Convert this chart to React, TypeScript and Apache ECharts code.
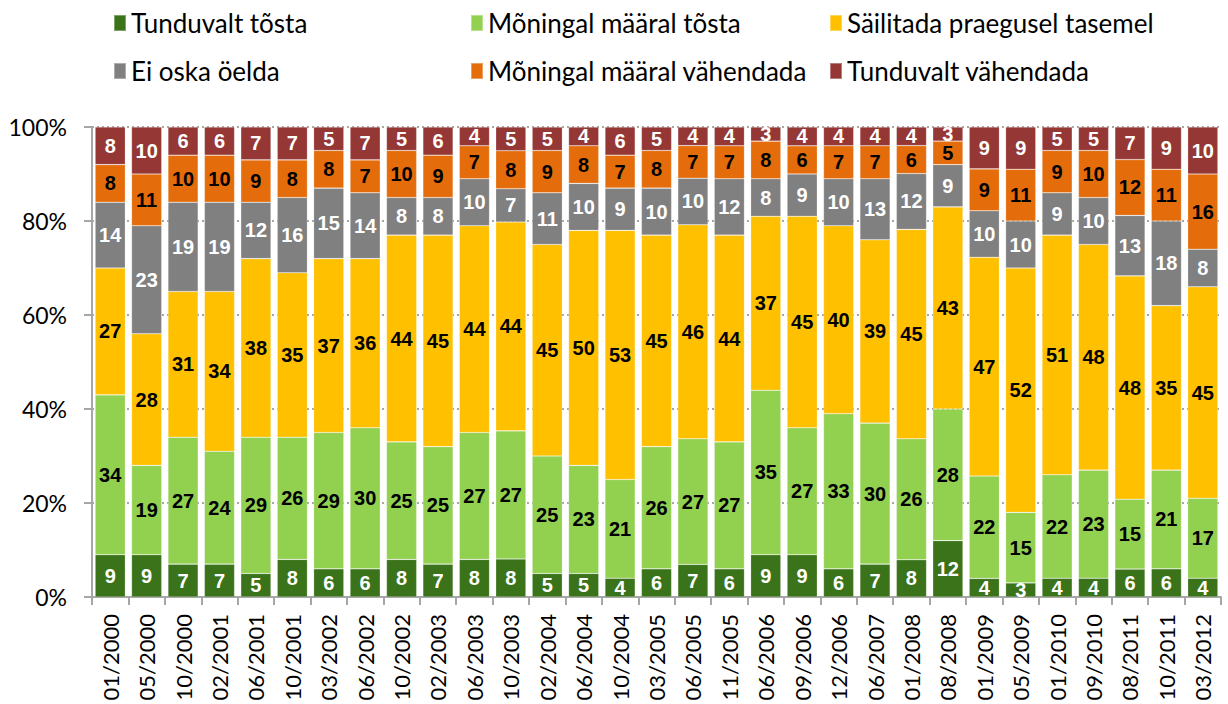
import React, { useEffect, useRef } from "react";
import * as echarts from "echarts";

const categories = [
  "01/2000", "05/2000", "10/2000", "02/2001", "06/2001", "10/2001", "03/2002", "06/2002",
  "10/2002", "02/2003", "06/2003", "10/2003", "02/2004", "06/2004", "10/2004", "03/2005",
  "06/2005", "11/2005", "06/2006", "09/2006", "12/2006", "06/2007", "01/2008", "08/2008",
  "01/2009", "05/2009", "01/2010", "09/2010", "08/2011", "10/2011", "03/2012",
];

const seriesNames = [
  "Tunduvalt tõsta",
  "Mõningal määral tõsta",
  "Säilitada praegusel tasemel",
  "Ei oska öelda",
  "Mõningal määral vähendada",
  "Tunduvalt vähendada",
];

const tunduvaltTosta = [9, 9, 7, 7, 5, 8, 6, 6, 8, 7, 8, 8, 5, 5, 4, 6, 7, 6, 9, 9, 6, 7, 8, 12, 4, 3, 4, 4, 6, 6, 4];
const moningalTosta = [34, 19, 27, 24, 29, 26, 29, 30, 25, 25, 27, 27, 25, 23, 21, 26, 27, 27, 35, 27, 33, 30, 26, 28, 22, 15, 22, 23, 15, 21, 17];
const sailitada = [27, 28, 31, 34, 38, 35, 37, 36, 44, 45, 44, 44, 45, 50, 53, 45, 46, 44, 37, 45, 40, 39, 45, 43, 47, 52, 51, 48, 48, 35, 45];
const eiOska = [14, 23, 19, 19, 12, 16, 15, 14, 8, 8, 10, 7, 11, 10, 9, 10, 10, 12, 8, 9, 10, 13, 12, 9, 10, 10, 9, 10, 13, 18, 8];
const moningalVahendada = [8, 11, 10, 10, 9, 8, 8, 7, 10, 9, 7, 8, 9, 8, 7, 8, 7, 7, 8, 6, 7, 7, 6, 5, 9, 11, 9, 10, 12, 11, 16];
const tunduvaltVahendada = [8, 10, 6, 6, 7, 7, 5, 7, 5, 6, 4, 5, 5, 4, 6, 5, 4, 4, 3, 4, 4, 4, 4, 3, 9, 9, 5, 5, 7, 9, 10];

const yTicks = [0, 20, 40, 60, 80, 100];

const allSeries = [tunduvaltTosta, moningalTosta, sailitada, eiOska, moningalVahendada, tunduvaltVahendada];
const colors = ["#3A7319", "#92D050", "#FFC000", "#808080", "#E46C0A", "#953735"];
const labelColors = ["#FFFFFF", "#000000", "#000000", "#FFFFFF", "#000000", "#FFFFFF"];

const legendPos = [
  { left: 113, top: 10 },
  { left: 470, top: 10 },
  { left: 829, top: 10 },
  { left: 113, top: 58 },
  { left: 470, top: 58 },
  { left: 829, top: 58 },
];

export default function App() {
  const ref = useRef<HTMLDivElement>(null);

  useEffect(() => {
    document.body.style.margin = "0";
    if (!ref.current) return;
    const chart = echarts.init(ref.current, null, { renderer: "svg" });

    const totals = categories.map((_, i) => allSeries.reduce((s, arr) => s + arr[i], 0));

    const series = allSeries.map((arr, si) => ({
      name: seriesNames[si],
      type: "bar",
      stack: "total",
      barCategoryGap: "17%",
      itemStyle: { color: colors[si], borderColor: "rgba(255,255,255,0.35)", borderWidth: 0.6 },
      label: {
        show: true,
        position: "inside",
        color: labelColors[si],
        fontFamily: "'Liberation Sans', Arial, sans-serif",
        fontWeight: "bold",
        fontSize: 20,
        formatter: (p: any) => String(arr[p.dataIndex]),
      },
      data: arr.map((v, i) => (v / totals[i]) * 100),
    }));

    const legends = seriesNames.map((name, i) => ({
      show: true,
      data: [name],
      left: legendPos[i].left,
      top: legendPos[i].top,
      padding: 0,
      icon: "rect",
      itemWidth: 12,
      itemHeight: 16,
      itemGap: 0,
      selectedMode: false,
      textStyle: { fontFamily: "Lato, sans-serif", fontSize: 26, lineHeight: 26, color: "#000", padding: [0, 0, 0, 0] },
    }));

    chart.setOption({
      animation: false,
      color: colors,
      legend: legends,
      grid: { left: 92, right: 7, top: 127, bottom: 107, containLabel: false },
      xAxis: {
        type: "category",
        data: categories,
        axisLine: { show: true, lineStyle: { color: "#A6A6A6", width: 2 } },
        axisTick: { show: true, length: 8, lineStyle: { color: "#A6A6A6", width: 2 } },
        axisLabel: {
          rotate: 90,
          margin: 17,
          interval: 0,
          color: "#000",
          fontFamily: "Lato, sans-serif",
          fontSize: 22,
        },
      },
      yAxis: {
        type: "value",
        min: yTicks[0],
        max: yTicks[yTicks.length - 1],
        interval: 20,
        axisLine: { show: true, lineStyle: { color: "#A6A6A6", width: 2 } },
        axisTick: { show: true, length: 8, lineStyle: { color: "#A6A6A6", width: 2 } },
        axisLabel: {
          formatter: "{value}%",
          margin: 25,
          color: "#000",
          fontFamily: "Lato, sans-serif",
          fontSize: 23,
        },
        splitLine: { show: true, lineStyle: { color: "#8C8C8C", type: [2, 3], width: 1.5 } },
      },
      series,
    });

    return () => chart.dispose();
  }, []);

  return <div ref={ref} style={{ width: 1228, height: 704 }} />;
}
